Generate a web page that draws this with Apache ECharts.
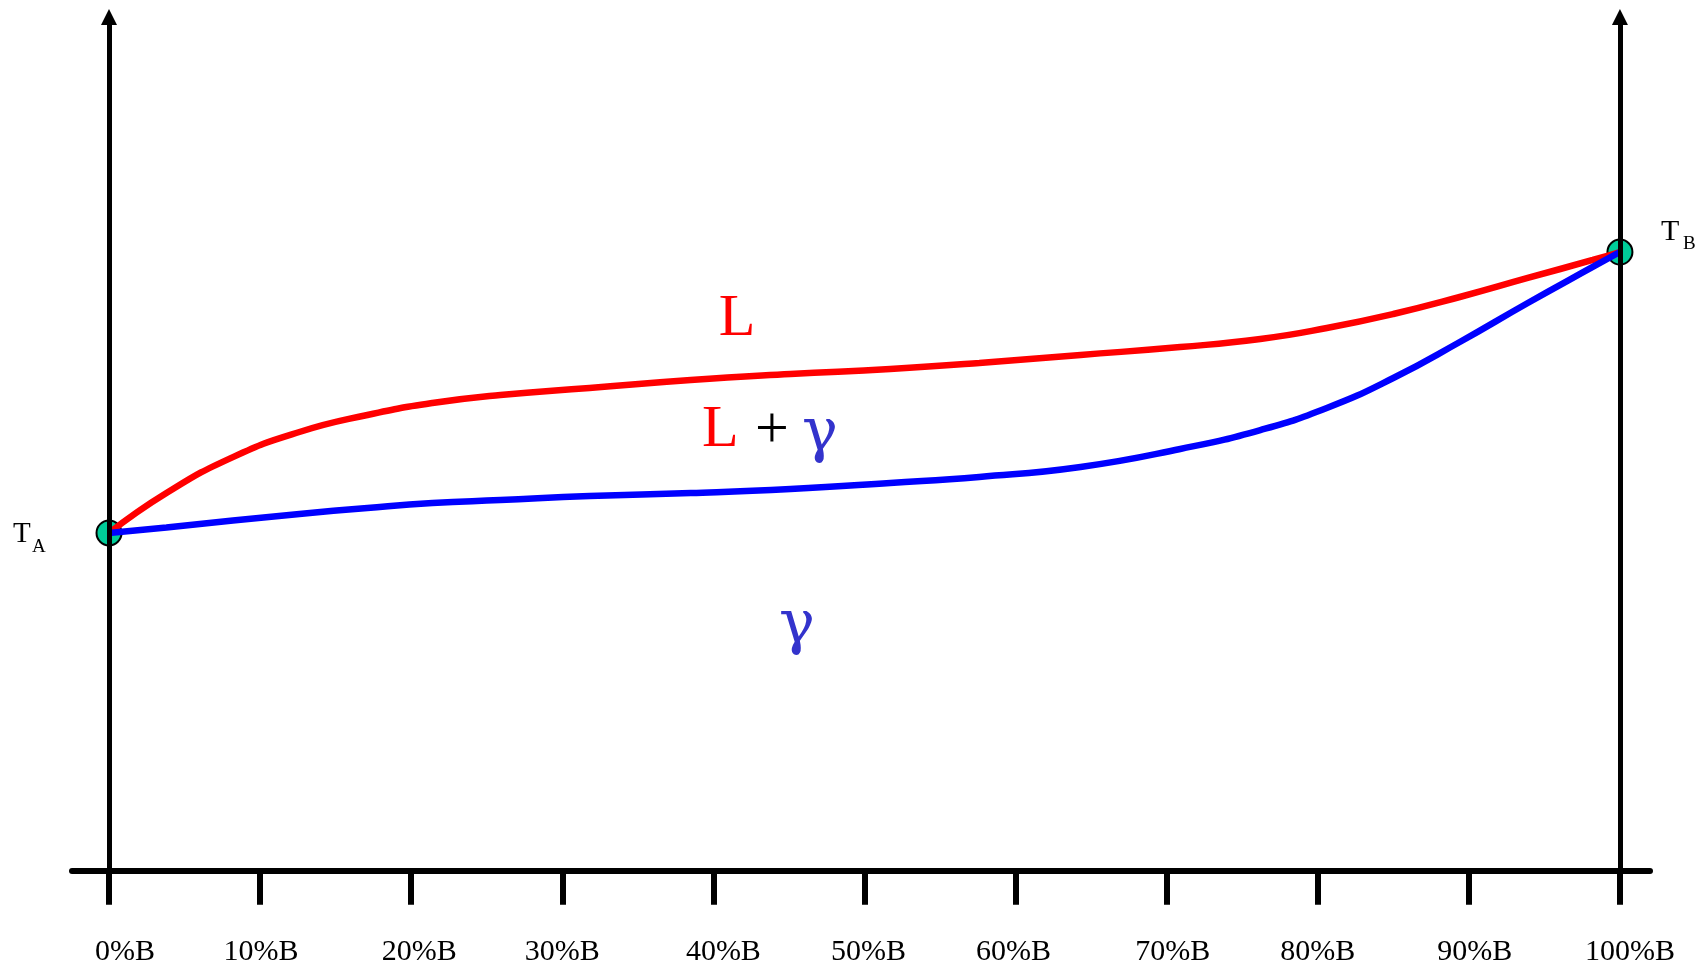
<!DOCTYPE html>
<html>
<head>
<meta charset="utf-8">
<script src="https://cdn.jsdelivr.net/npm/echarts@6/dist/echarts.min.js"></script>
<style>
  html, body { margin: 0; padding: 0; background: #ffffff; }
  #chart { width: 1699px; height: 968px; }
</style>
</head>
<body>
<div id="chart"></div>
<script>
// ---- data ----
const xTickValues = [0, 10, 20, 30, 40, 50, 60, 70, 80, 90, 100];
const xTickLabels = ['0%B', '10%B', '20%B', '30%B', '40%B', '50%B', '60%B', '70%B', '80%B', '90%B', '100%B'];

const liquidusX = [0, 3.8, 8.2, 12.6, 17.1, 21.4, 25.9, 31.8, 38.5, 45.1, 51.7, 57.6, 64.3, 70.9, 76.2, 80.6, 85.0, 89.4, 93.9, 98.2, 100];
const liquidusY = [39.56, 44.24, 48.45, 51.39, 53.38, 54.78, 55.73, 56.54, 57.48, 58.18, 58.77, 59.47, 60.41, 61.34, 62.28, 63.57, 65.21, 67.20, 69.43, 71.54, 72.47];

const solidusX = [0, 3.8, 8.2, 12.6, 17.1, 21.4, 25.9, 31.8, 38.5, 45.1, 51.7, 57.6, 64.3, 70.9, 76.2, 80.6, 85.0, 89.4, 93.9, 98.2, 100];
const solidusY = [39.56, 40.20, 41.02, 41.78, 42.49, 43.07, 43.42, 43.89, 44.24, 44.71, 45.41, 46.12, 47.29, 49.40, 51.62, 54.20, 57.71, 61.93, 66.50, 70.72, 72.47];

const meltingX = [0, 100];
const meltingY = [39.56, 72.47];

const axisTop = 100;

// ---- chart ----
const serif = "'Liberation Serif', 'Times New Roman', serif";
const greek = "'DejaVu Serif', serif";
const labelShift = {0: 16, 10: 1, 20: 8, 30: 0, 40: 10, 50: 4, 60: -2, 70: 6, 80: 0, 90: 6, 100: 10};
const rich = {};
xTickValues.forEach(function (v, i) {
  const d = labelShift[v] || 0;
  rich['s' + i] = {
    fontFamily: serif, fontSize: 30, color: '#000',
    padding: d >= 0 ? [0, 0, 0, 2 * d] : [0, -2 * d, 0, 0]
  };
});

function zip(xs, ys) { return xs.map(function (x, i) { return [x, ys[i]]; }); }

const chart = echarts.init(document.getElementById('chart'), null, {renderer: 'canvas'});
chart.setOption({
  backgroundColor: '#ffffff',
  animation: false,
  grid: { left: 72, right: 49, top: 17, bottom: 97.3, containLabel: false },
  xAxis: {
    type: 'value', min: -2.45, max: 101.99,
    splitLine: { show: false },
    axisLine: { show: true, onZero: true, lineStyle: { color: '#000', width: 6 } },
    axisTick: { show: true, inside: false, length: 34, customValues: xTickValues, lineStyle: { color: '#000', width: 6 } },
    axisLabel: {
      show: true, margin: 66, customValues: xTickValues,
      fontFamily: serif, fontSize: 30, color: '#000',
      formatter: function (v) {
        const i = xTickValues.indexOf(Math.round(v));
        return i < 0 ? '' : '{s' + i + '|' + xTickLabels[i] + '}';
      },
      rich: rich
    }
  },
  yAxis: { type: 'value', min: 0, max: axisTop, show: false, splitLine: { show: false } },
  series: [
    {
      type: 'line', data: [], z: 1, silent: true,
      markLine: {
        silent: true, animation: false,
        symbol: ['none', 'triangle'], symbolSize: 16,
        label: { show: false },
        lineStyle: { color: '#000', width: 5, type: 'solid' },
        data: [
          [{ coord: [xTickValues[0], 0] }, { coord: [xTickValues[0], axisTop] }],
          [{ coord: [xTickValues[10], 0] }, { coord: [xTickValues[10], axisTop] }]
        ]
      }
    },
    {
      type: 'scatter', z: 3, data: zip(meltingX, meltingY), symbolSize: 25,
      itemStyle: { color: '#00cc99', borderColor: '#000', borderWidth: 2, opacity: 1 }
    },
    {
      name: 'liquidus', type: 'line', z: 4, smooth: 0.5, showSymbol: false, symbol: 'none',
      data: zip(liquidusX, liquidusY),
      lineStyle: { color: '#ff0000', width: 6.5 }
    },
    {
      name: 'solidus', type: 'line', z: 4, smooth: 0.5, showSymbol: false, symbol: 'none',
      data: zip(solidusX, solidusY),
      lineStyle: { color: '#0000ff', width: 6.5 }
    }
  ],
  graphic: [
    { type: 'text', x: 737, y: 319, style: { text: 'L', font: '60px ' + serif, fill: '#ff0000', textAlign: 'center', textVerticalAlign: 'middle' } },
    { type: 'text', x: 702, y: 430, style: { text: 'L', font: '60px ' + serif, fill: '#ff0000', textAlign: 'left', textVerticalAlign: 'middle' } },
    { type: 'text', x: 772, y: 431, style: { text: '+', font: '60px ' + serif, fill: '#000000', textAlign: 'center', textVerticalAlign: 'middle' } },
    { type: 'text', x: 820, y: 435, style: { text: 'γ', font: '60px ' + greek, fill: '#3333cc', textAlign: 'center', textVerticalAlign: 'middle' } },
    { type: 'text', x: 797, y: 627, style: { text: 'γ', font: '60px ' + greek, fill: '#3333cc', textAlign: 'center', textVerticalAlign: 'middle' } },
    { type: 'text', x: 13, y: 534, style: { text: 'T', font: '29px ' + serif, fill: '#000', textAlign: 'left', textVerticalAlign: 'middle' } },
    { type: 'text', x: 32, y: 547, style: { text: 'A', font: '19px ' + serif, fill: '#000', textAlign: 'left', textVerticalAlign: 'middle' } },
    { type: 'text', x: 1661, y: 232, style: { text: 'T', font: '30px ' + serif, fill: '#000', textAlign: 'left', textVerticalAlign: 'middle' } },
    { type: 'text', x: 1683, y: 244, style: { text: 'B', font: '19px ' + serif, fill: '#000', textAlign: 'left', textVerticalAlign: 'middle' } }
  ]
});
</script>
</body>
</html>
